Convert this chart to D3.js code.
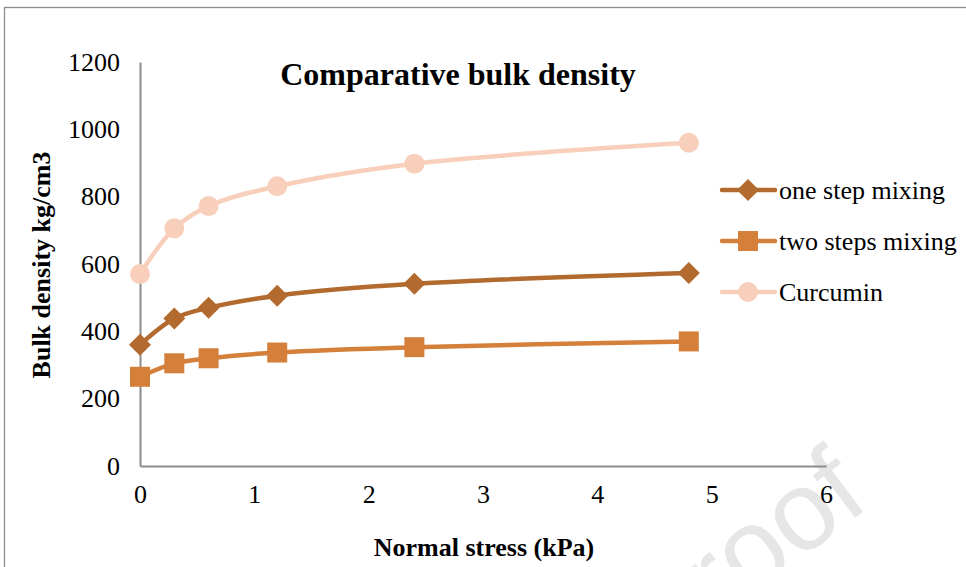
<!DOCTYPE html>
<html lang="en">
<head>
<meta charset="utf-8">
<script src="https://d3js.org/d3.v7.min.js"></script>
<style>
  body { margin: 0; background: #fff; }
  svg { display: block; }
</style>
</head>
<body>
<script>
    // normal stress (kPa)
    var stress = [0, 0.3, 0.6, 1.2, 2.4, 4.8];

    var oneStep = [360, 438, 470, 506, 541, 573];
    var twoSteps = [265, 305, 320, 337, 353, 370];
    var curcumin = [570, 706, 772, 831, 898, 960];

    var seriesNames = ["one step mixing", "two steps mixing", "Curcumin"];
    var xTicks = [0, 1, 2, 3, 4, 5, 6];
    var yTicks = [0, 200, 400, 600, 800, 1000, 1200];

    var width = 966, height = 567;
    var serif = "Liberation Serif";

    var series = [
        { name: seriesNames[0], values: oneStep, color: "#b36a2e", shape: "diamond" },
        { name: seriesNames[1], values: twoSteps, color: "#d47f3a", shape: "square" },
        { name: seriesNames[2], values: curcumin, color: "#f7cfbb", shape: "circle" }
    ];

    var svg = d3.select("body").append("svg")
        .attr("width", width)
        .attr("height", height);

    // outer chart frame
    svg.append("rect")
        .attr("x", 4.5).attr("y", 7.5)
        .attr("width", width + 10).attr("height", height + 10)
        .attr("fill", "none")
        .attr("stroke", "#8c8c8c")
        .attr("stroke-width", 1.3);

    // watermark from the source page (sits under the chart)
    svg.append("text")
        .attr("transform", "translate(872,505) rotate(-37)")
        .attr("text-anchor", "end")
        .attr("font-family", "Liberation Sans")
        .attr("font-size", 112)
        .attr("fill", "#e6e6e6")
        .text("Journal Pre-proof");

    var x = d3.scaleLinear().domain([0, 6]).range([140, 826]);
    var y = d3.scaleLinear().domain([0, 1200]).range([466, 62]);

    var xAxis = svg.append("g")
        .attr("transform", "translate(0," + y(0) + ")")
        .call(d3.axisBottom(x).tickValues(xTicks).tickFormat(d3.format("d")).tickSize(0).tickPadding(19));
    var yAxis = svg.append("g")
        .attr("transform", "translate(" + x(0) + ",0)")
        .call(d3.axisLeft(y).tickValues(yTicks).tickFormat(d3.format("d")).tickSize(0).tickPadding(20));

    [xAxis, yAxis].forEach(function (g) {
        g.attr("font-family", serif).attr("font-size", 26);
        g.select(".domain").attr("stroke", "#8c8c8c").attr("stroke-width", 2);
        g.selectAll("text").attr("fill", "#000");
    });

    var line = d3.line()
        .x(function (d) { return x(d[0]); })
        .y(function (d) { return y(d[1]); })
        .curve(d3.curveCatmullRom.alpha(0.5));

    function marker(g, shape, color) {
        if (shape === "diamond") {
            g.append("path").attr("d", "M0,-11L11,0L0,11L-11,0Z").attr("fill", color);
        } else if (shape === "square") {
            g.append("rect").attr("x", -10).attr("y", -10).attr("width", 20).attr("height", 20)
                .attr("fill", color);
        } else {
            g.append("circle").attr("r", 10).attr("fill", color);
        }
    }

    // draw Curcumin first so darker lines sit on top
    series.slice().reverse().forEach(function (s) {
        var pts = stress.map(function (v, i) { return [v, s.values[i]]; });
        svg.append("path")
            .datum(pts)
            .attr("d", line)
            .attr("fill", "none")
            .attr("stroke", s.color)
            .attr("stroke-width", 4.5)
            .attr("stroke-linecap", "round");
        pts.forEach(function (p) {
            var g = svg.append("g").attr("transform", "translate(" + x(p[0]) + "," + y(p[1]) + ")");
            marker(g, s.shape, s.color);
        });
    });

    // legend
    var legend = svg.append("g");
    series.forEach(function (s, i) {
        var ly = 190 + i * 51;
        var g = legend.append("g").attr("transform", "translate(0," + ly + ")");
        g.append("line")
            .attr("x1", 722).attr("x2", 775)
            .attr("y1", 0).attr("y2", 0)
            .attr("stroke", s.color)
            .attr("stroke-width", 4.5)
            .attr("stroke-linecap", "round");
        var m = g.append("g").attr("transform", "translate(748,0)");
        marker(m, s.shape, s.color);
        g.append("text")
            .attr("x", 779).attr("y", 9)
            .attr("font-family", serif)
            .attr("font-size", 26)
            .text(s.name);
    });

    // title and axis labels
    svg.append("text")
        .attr("x", 458).attr("y", 85)
        .attr("text-anchor", "middle")
        .attr("font-family", serif)
        .attr("font-size", 32)
        .attr("font-weight", "bold")
        .text("Comparative bulk density");

    svg.append("text")
        .attr("x", 484).attr("y", 556)
        .attr("text-anchor", "middle")
        .attr("font-family", serif)
        .attr("font-size", 26)
        .attr("font-weight", "bold")
        .text("Normal stress (kPa)");

    svg.append("text")
        .attr("transform", "translate(50,265) rotate(-90)")
        .attr("text-anchor", "middle")
        .attr("font-family", serif)
        .attr("font-size", 26)
        .attr("font-weight", "bold")
        .text("Bulk density kg/cm3");
</script>
</body>
</html>
